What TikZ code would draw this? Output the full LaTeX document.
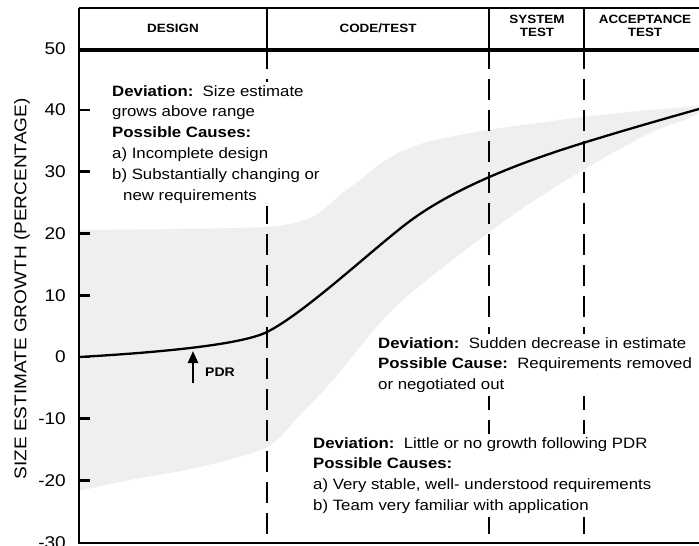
\documentclass[tikz,border=0pt]{standalone}
\usepackage{fontspec}
\setmainfont{Liberation Sans}[FakeStretch=1.12]
\usetikzlibrary{arrows.meta}
\definecolor{bandgray}{RGB}{239,239,239}
\begin{document}
\begin{tikzpicture}[x=1bp,y=-1bp,
  frameline/.style={line width=2.6bp, line cap=butt},
  thinline/.style={line width=1.6bp},
  phaseline/.style={line width=2.6bp, dash pattern=on 21bp off 10bp},
  tickmark/.style={line width=2.6bp},
  ticklabel/.style={anchor=east, inner sep=0pt, font=\fontsize{17bp}{20bp}\selectfont},
  headtext/.style={align=center, inner sep=0pt, font=\fontsize{12bp}{13bp}\selectfont\bfseries},
  note/.style={anchor=north west, align=left, fill=white, inner sep=3bp,
    font=\fontsize{15bp}{20.8bp}\selectfont},
  curveline/.style={line width=2.3bp, line cap=round, line join=round}]
\useasboundingbox (0,0) rectangle (699,546);
% gray tolerance band
\fill[bandgray] plot[smooth, tension=0.5] coordinates {(79,230) (180,229) (267,227) (293,223) (310,218) (323,210) (340,195) (360,180) (380,164) (400,152) (427,142) (460,135) (487,130) (583,117) (650,110) (699,106)}
  -- plot[smooth, tension=0.5] coordinates {(699,111) (690,118) (650,133) (583,170) (520,210) (450,262) (390,312) (333,380) (300,415) (267,447) (200,467) (130,480) (79,491)} -- cycle;
% coordinates of the frame
\coordinate (tl) at (79,8);
\coordinate (tr) at (699,8);
\coordinate (hl) at (79,50);
\coordinate (hr) at (699,50);
\coordinate (bl) at (79,543);
\coordinate (br) at (699,543);
% phase dividers
\foreach \n/\x in {a/267,b/489,c/584}{
  \coordinate (top\n) at (\x,8);
  \coordinate (mid\n) at (\x,50);
  \coordinate (bot\n) at (\x,543);
  \draw[thinline] (top\n) -- (mid\n);
  \draw[phaseline] ([yshift=2bp]mid\n) -- (bot\n);
}
% frame
\draw[thinline] (tl) -- (tr);
\draw[line width=4.2bp] (hl) -- (hr);
\draw[frameline] (tl) -- (bl);
\draw[frameline] ([xshift=-1.3bp]bl) -- (br);
% ticks and labels
\foreach \v in {40,30,20,10,0,-10,-20}{
  \coordinate (tk\v) at (79,{357-6.175*\v});
  \draw[tickmark] (tk\v) -- ++(11,0);
}
\foreach \v in {50,40,30,20,10,0,-10,-20,-30}{
  \node[ticklabel] (lab\v) at (66,{357-6.175*\v}) {\v};
}
\node[rotate=90, inner sep=0pt, font=\fontsize{17bp}{18bp}\selectfont] (ytitle) at (22,289) {SIZE ESTIMATE GROWTH (PERCENTAGE)};
% header texts
\node[headtext] (hdesign) at (173,28) {DESIGN};
\node[headtext] (hcode) at (378,28) {CODE/TEST};
\node[headtext] (hsys) at (537,26) {SYSTEM\\TEST};
\node[headtext] (hacc) at (645,26) {ACCEPTANCE\\TEST};
% estimate curve
\coordinate (c0) at (79,357);
\coordinate (c1) at (267,332);
\coordinate (c2) at (410,221);
\coordinate (c3) at (583,143);
\coordinate (c4) at (699,109);
\draw[curveline] (c0) .. controls (150,353) and (240,345.5) .. (c1)
  .. controls (305,313) and (375,247) .. (c2)
  .. controls (460,184) and (533,158.5) .. (c3)
  .. controls (620,131.5) and (660,120) .. (c4);
% PDR arrow
\coordinate (pdrbase) at (193,383);
\coordinate (pdrtip) at (193,351);
\draw[line width=2.4bp, -{Triangle[length=12bp,width=10bp]}] (pdrbase) -- (pdrtip);
\node[anchor=west, inner sep=0pt, font=\fontsize{12.5bp}{14bp}\selectfont\bfseries] (pdr) at (205,372) {PDR};
% notes
\node[note] (note1) at (109,82) {\textbf{Deviation:}\ \ Size estimate\\grows above range\\\textbf{Possible Causes:}\\a) Incomplete design\\b) Substantially changing or\\\hspace*{11bp}new requirements};
\node[note] (note2) at (375,334) {\textbf{Deviation:}\ \ Sudden decrease in estimate\\\textbf{Possible Cause:}\ \ Requirements removed\\or negotiated out};
\node[note] (note3) at (310,434) {\textbf{Deviation:}\ \ Little or no growth following PDR\\\textbf{Possible Causes:}\\a) Very stable, well- understood requirements\\b) Team very familiar with application};
\end{tikzpicture}
\end{document}
